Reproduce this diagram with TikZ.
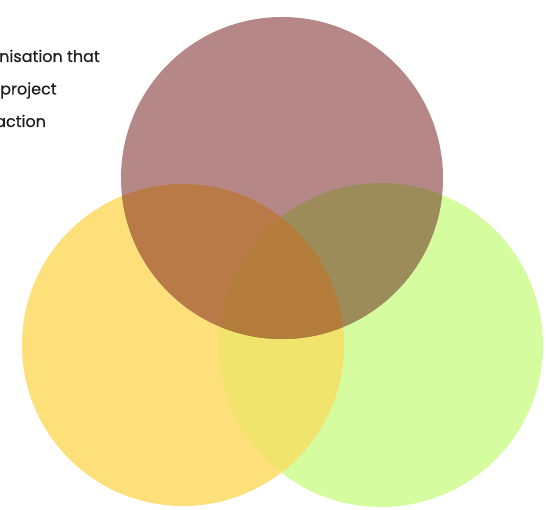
\documentclass[tikz,border=0pt]{standalone}
\usepackage{fontspec}
\setmainfont{Poppins}[FakeBold=0.5]
\usepackage{tikz}

\definecolor{mauve}{RGB}{181,135,135}
\definecolor{sun}{RGB}{253,224,122}
\definecolor{lime}{RGB}{214,252,160}
\definecolor{sunlime}{RGB}{240,228,108}
\definecolor{mauvesun}{RGB}{186,122,72}
\definecolor{mauvelime}{RGB}{155,140,90}
\definecolor{allthree}{RGB}{180,124,58}
\definecolor{ink}{RGB}{30,30,30}

\begin{document}
\begin{tikzpicture}[x=1pt,y=1pt,
    line/.style={font=\fontsize{16}{18}\selectfont, text=ink, anchor=base west, inner sep=0pt}]
    \useasboundingbox (0,0) rectangle (546,510);
    % circles
    \fill[lime] (381,165) circle (162);
    \fill[sun] (183,165) circle (161);
    \fill[mauve] (282,332) circle (161);
    % overlaps
    \begin{scope}
        \clip (183,165) circle (161);
        \fill[sunlime] (381,165) circle (162);
    \end{scope}
    \begin{scope}
        \clip (282,332) circle (161);
        \fill[mauvesun] (183,165) circle (161);
        \fill[mauvelime] (381,165) circle (162);
        \clip (183,165) circle (161);
        \fill[allthree] (381,165) circle (162);
    \end{scope}
    % text at the left
    \begin{scope}
        \clip (0,0) rectangle (546,510);
        \node[line] (l1) at (-1,448) {nisation that};
        \node[line] (l2) at (0,415.5) {project};
        \node[line] (l3) at (-5,383) {action};
    \end{scope}
\end{tikzpicture}
\end{document}
